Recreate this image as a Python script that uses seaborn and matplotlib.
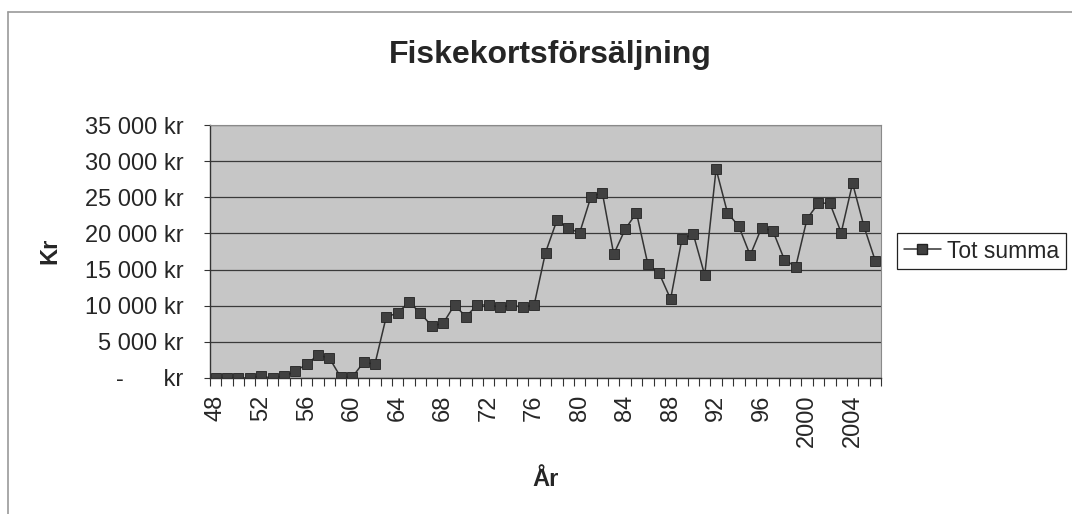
import matplotlib
matplotlib.use('Agg')
from matplotlib import pyplot as plt
from matplotlib.ticker import FuncFormatter, MultipleLocator, FixedLocator
from matplotlib.lines import Line2D
import seaborn as sns
import pandas as pd

years = list(range(1948, 2007))
tot_summa = [0, 0, 0, 0, 230, 0, 230, 920, 1930, 3170, 2750, 100, 100, 2160, 1930,
             8490, 8950, 10560, 8950, 7200, 7570, 10100, 8490, 10100, 10100, 9780, 10100, 9780, 10100,
             17350, 21800, 20750, 20060, 25100, 25610, 17120, 20560, 22860, 15740,
             14460, 10920, 19280, 19870, 14230, 28920, 22860, 20980, 16980, 20790, 20330,
             16390, 15380, 22030, 24190, 24190, 20100, 26940, 20980, 16200]
label_years = list(range(1948, 2005, 4))
tick_labels = ['48', '52', '56', '60', '64', '68', '72', '76', '80', '84', '88', '92', '96',
               '2000', '2004']

df = pd.DataFrame({'year': years, 'summa': tot_summa})

sns.set_style('white')
plt.rcParams['font.family'] = ['Liberation Sans', 'DejaVu Sans']

fig = plt.figure(figsize=(10.72, 5.14), dpi=100)
ax = fig.add_axes([210/1072, 1 - 378/514, (881 - 210)/1072, (378 - 125)/514])
ax.set_facecolor('#c6c6c6')

sns.lineplot(data=df, x='year', y='summa', ax=ax, color='#333333', linewidth=1.1,
             marker='s', markersize=6.8, markerfacecolor='#404040',
             markeredgecolor='#222222', markeredgewidth=0.6)

ax.set_xlim(1947.5, 2006.5)
ax.set_ylim(0, 35000)
ax.yaxis.set_major_locator(MultipleLocator(5000))
ax.grid(axis='y', color='#3a3a3a', linewidth=0.9)
ax.set_axisbelow(True)


def kr(v, pos):
    if v == 0:
        return '-      kr'
    return '{:,.0f} kr'.format(v).replace(',', ' ')


ax.yaxis.set_major_formatter(FuncFormatter(kr))
ax.set_xticks(label_years)
ax.set_xticklabels(tick_labels, rotation=90)
ax.xaxis.set_minor_locator(FixedLocator([y + 0.5 for y in range(1947, 2007)]))
ax.tick_params(axis='x', which='major', length=0, pad=12, labelsize=17)
ax.tick_params(axis='x', which='minor', length=6, width=0.8, color='#333333', bottom=True)
ax.tick_params(axis='y', length=4, width=0.8, color='#333333', left=True, labelsize=17, pad=15)
ax.set_xlabel('')
ax.set_ylabel('')

for side in ['left', 'bottom']:
    ax.spines[side].set_color('#333333')
    ax.spines[side].set_linewidth(1.0)
for side in ['top', 'right']:
    ax.spines[side].set_color('#8a8a8a')
    ax.spines[side].set_linewidth(0.8)

fig.text(550/1072, 1 - 55/514, 'Fiskekortsförsäljning', ha='center', va='center',
         fontsize=23, fontweight='bold')
fig.text(50/1072, 1 - 251/514, 'Kr', ha='center', va='center', rotation=90,
         fontsize=17, fontweight='bold')
fig.text(546/1072, 1 - 480/514, 'År', ha='center', va='center',
         fontsize=17, fontweight='bold')

# chart area border
fig.add_artist(Line2D([8/1072, 8/1072], [0, 1 - 12/514], color='#9a9a9a', linewidth=1.2))
fig.add_artist(Line2D([8/1072, 1], [1 - 12/514, 1 - 12/514], color='#9a9a9a', linewidth=1.2))

handle = Line2D([], [], color='#333333', linewidth=1.1, marker='s', markersize=6.5,
                markerfacecolor='#404040', markeredgecolor='#222222')
leg = fig.legend([handle], ['Tot summa'], loc='center left',
                 bbox_to_anchor=(897/1072, 1 - 251/514), fontsize=16.5,
                 fancybox=False, edgecolor='#222222', framealpha=1,
                 handlelength=1.6, borderpad=0.3, handletextpad=0.3,
                 borderaxespad=0)
leg.get_frame().set_linewidth(0.9)

fig.savefig('out.png', dpi=100)
